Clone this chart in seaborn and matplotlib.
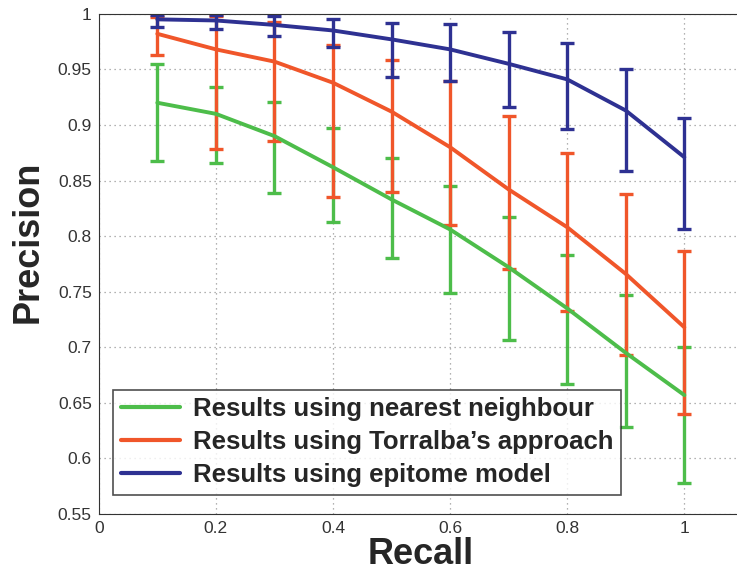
import numpy as np
import pandas as pd
import seaborn as sns
import matplotlib.pyplot as plt

# recall levels
recall = [0.1, 0.2, 0.3, 0.4, 0.5, 0.6, 0.7, 0.8, 0.9, 1.0]

# nearest neighbour
nn_prec = [0.920, 0.910, 0.890, 0.862, 0.833, 0.806, 0.772, 0.735, 0.695, 0.657]
nn_low = [0.868, 0.866, 0.839, 0.813, 0.780, 0.749, 0.707, 0.667, 0.628, 0.578]
nn_high = [0.955, 0.934, 0.921, 0.897, 0.870, 0.845, 0.817, 0.783, 0.747, 0.700]

# Torralba's approach
tor_prec = [0.982, 0.968, 0.957, 0.938, 0.912, 0.880, 0.842, 0.808, 0.766, 0.718]
tor_low = [0.963, 0.878, 0.886, 0.835, 0.840, 0.810, 0.770, 0.733, 0.693, 0.640]
tor_high = [0.997, 0.998, 0.993, 0.972, 0.958, 0.940, 0.908, 0.875, 0.838, 0.787]

# epitome model
epi_prec = [0.995, 0.994, 0.990, 0.985, 0.977, 0.968, 0.955, 0.941, 0.913, 0.871]
epi_low = [0.988, 0.986, 0.980, 0.970, 0.943, 0.940, 0.916, 0.896, 0.859, 0.806]
epi_high = [0.999, 0.999, 0.998, 0.995, 0.992, 0.991, 0.984, 0.974, 0.950, 0.906]

labels = ["Results using nearest neighbour",
          "Results using Torralba\u2019s approach",
          "Results using epitome model"]
colors = ["#4dbd4a", "#f0562a", "#2e3192"]

sns.set_style("white")
plt.rcParams['font.family'] = ['Liberation Sans', 'DejaVu Sans']

df = pd.DataFrame({
    "Recall": recall * 3,
    "Precision": nn_prec + tor_prec + epi_prec,
    "method": [labels[0]] * 10 + [labels[1]] * 10 + [labels[2]] * 10,
})

fig = plt.figure(figsize=(7.37, 5.75), dpi=100)
ax = fig.add_axes([0.134, 0.106, 0.874, 0.87])

#error bars first, lines on top
for prec, lo, hi, c in [(nn_prec, nn_low, nn_high, colors[0]),
                        (tor_prec, tor_low, tor_high, colors[1]),
                        (epi_prec, epi_low, epi_high, colors[2])]:
    p = np.array(prec)
    err = [p - np.array(lo), np.array(hi) - p]
    ax.errorbar(recall, p, yerr=err, fmt='none', ecolor=c, elinewidth=2.4,
                capsize=5, capthick=2.4)

sns.lineplot(data=df, x="Recall", y="Precision", hue="method", palette=colors,
             linewidth=2.8, ax=ax)

ax.set_xlim(0, 1.1)
ax.set_ylim(0.55, 1.0)
ax.set_xticks([0, 0.2, 0.4, 0.6, 0.8, 1])
ax.set_xticklabels(["0", "0.2", "0.4", "0.6", "0.8", "1"])
ax.set_yticks(np.arange(0.55, 1.001, 0.05))
ax.set_yticklabels(["0.55", "0.6", "0.65", "0.7", "0.75", "0.8", "0.85", "0.9", "0.95", "1"])
ax.tick_params(labelsize=12.5, colors="#333333", direction="in", length=4, pad=5)
ax.grid(True, linestyle=(0, (1, 3)), color="#999999", linewidth=0.9)
for s in ax.spines.values():
    s.set_color("#333333")

ax.set_xlabel("Recall", fontsize=26, fontweight="bold", labelpad=1)
ax.set_ylabel("Precision", fontsize=26, fontweight="bold")
ax.yaxis.set_label_coords(-0.082, 0.545)

leg = ax.legend(loc="lower left", bbox_to_anchor=(0.014, 0.028),
                prop={"weight": "bold", "size": 18.5}, frameon=True, fancybox=False,
                handlelength=2.3, borderpad=0.3, labelspacing=0.35, handletextpad=0.5,
                borderaxespad=0.2)
leg.get_frame().set_edgecolor("#222222")
leg.get_frame().set_linewidth(1.2)
for line in leg.get_lines():
    line.set_linewidth(3)

fig.savefig("out.png", dpi=100)
